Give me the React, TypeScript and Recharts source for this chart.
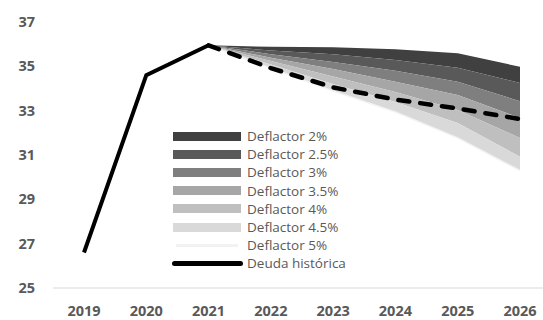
import { ComposedChart, Area, Line, XAxis, YAxis, Legend } from 'recharts'

const years = ['2019', '2020', '2021', '2022', '2023', '2024', '2025', '2026']

// deuda histórica y proyección central (línea discontinua)
const deudaHistorica = [26.6, 34.6, 35.95, null, null, null, null, null]
const proyeccion = [null, null, 35.95, 34.92, 34.05, 33.5, 33.1, 32.62]

// escenarios por deflactor
const deflactor2 = [null, null, 35.95, 35.88, 35.86, 35.77, 35.59, 34.98]
const deflactor25 = [null, null, 35.95, 35.71, 35.54, 35.29, 34.94, 34.25]
const deflactor3 = [null, null, 35.95, 35.55, 35.2, 34.8, 34.31, 33.43]
const deflactor35 = [null, null, 35.95, 35.39, 34.88, 34.31, 33.71, 32.67]
const deflactor4 = [null, null, 35.95, 35.24, 34.54, 33.84, 33.03, 31.77]
const deflactor45 = [null, null, 35.95, 35.08, 34.2, 33.39, 32.44, 30.92]
const deflactor5 = [null, null, 35.95, 34.92, 33.89, 32.94, 31.77, 30.3]

const yTicks = [25, 27, 29, 31, 33, 35, 37]

const escenarios = [deflactor2, deflactor25, deflactor3, deflactor35, deflactor4, deflactor45, deflactor5]
const nombres = ['Deflactor 2%', 'Deflactor 2.5%', 'Deflactor 3%', 'Deflactor 3.5%', 'Deflactor 4%', 'Deflactor 4.5%', 'Deflactor 5%']
const colores = ['#404040', '#595959', '#7f7f7f', '#a6a6a6', '#bfbfbf', '#d9d9d9', '#f2f2f2']

const data = years.map((year, i) => {
  const row: Record<string, any> = { year, hist: deudaHistorica[i], proj: proyeccion[i], d5: deflactor5[i] }
  for (let k = 0; k < escenarios.length - 1; k++) {
    const hi = escenarios[k][i]
    const lo = escenarios[k + 1][i]
    row['band' + k] = hi == null || lo == null ? null : [lo, hi]
  }
  return row
})

const font = '"Open Sans", sans-serif'

function Leyenda() {
  const rows = nombres.map((n, i) => ({ name: n, color: colores[i], kind: i === 6 ? 'thin' : 'box' }))
  rows.push({ name: 'Deuda histórica', color: '#000', kind: 'line' })
  return (
    <div style={{ fontFamily: font, fontSize: 13.5, color: '#595959' }}>
      {rows.map((r) => (
        <div key={r.name} style={{ display: 'flex', alignItems: 'center', height: 18.2, whiteSpace: 'nowrap' }}>
          <div style={{ width: 75, display: 'flex', alignItems: 'center' }}>
            {r.kind === 'box' && <div style={{ width: 68, height: 9, marginLeft: 1, background: r.color }} />}
            {r.kind === 'thin' && <div style={{ width: 62, height: 3, marginLeft: 4, background: r.color }} />}
            {r.kind === 'line' && <div style={{ width: 71, height: 4.5, borderRadius: 3, background: r.color }} />}
          </div>
          <span>{r.name}</span>
        </div>
      ))}
    </div>
  )
}

export default function App() {
  return (
    <div style={{ position: 'absolute', left: 0, top: 0, width: 543, height: 320, overflow: 'hidden', background: '#fff' }}>
      <ComposedChart width={551} height={320} data={data} margin={{ top: 22, right: 0, bottom: 0, left: 0 }}>
        <XAxis
          dataKey="year"
          height={32}
          padding={{ left: 31, right: 31 }}
          axisLine={{ stroke: '#d9d9d9' }}
          tickLine={false}
          tickMargin={12}
          tick={{ fill: '#595959', fontSize: 14.5, fontWeight: 'bold', fontFamily: font }}
          interval={0}
        />
        <YAxis
          width={53}
          domain={[25, 37]}
          ticks={yTicks}
          axisLine={false}
          tickLine={false}
          tickMargin={12}
          tick={{ fill: '#595959', fontSize: 14.5, fontWeight: 'bold', fontFamily: font }}
        />
        {escenarios.slice(0, -1).map((_, k) => (
          <Area
            key={k}
            type="linear"
            dataKey={'band' + k}
            fill={colores[k]}
            fillOpacity={1}
            stroke="none"
            isAnimationActive={false}
            activeDot={false}
          />
        ))}
        <Line type="linear" dataKey="d5" stroke="#f2f2f2" strokeWidth={1.5} dot={false} activeDot={false} isAnimationActive={false} />
        <Line
          type="linear"
          dataKey="proj"
          stroke="#000"
          strokeWidth={4.5}
          strokeDasharray="11 11"
          strokeLinecap="round"
          dot={false}
          activeDot={false}
          isAnimationActive={false}
        />
        <Line
          type="linear"
          dataKey="hist"
          stroke="#000"
          strokeWidth={4}
          strokeLinejoin="miter"
          dot={false}
          activeDot={false}
          isAnimationActive={false}
        />
        <Legend
          layout="vertical"
          align="center"
          verticalAlign="middle"
          content={() => <Leyenda />}
          wrapperStyle={{ position: 'absolute', left: 172, top: 127, width: 200 }}
        />
      </ComposedChart>
    </div>
  )
}
